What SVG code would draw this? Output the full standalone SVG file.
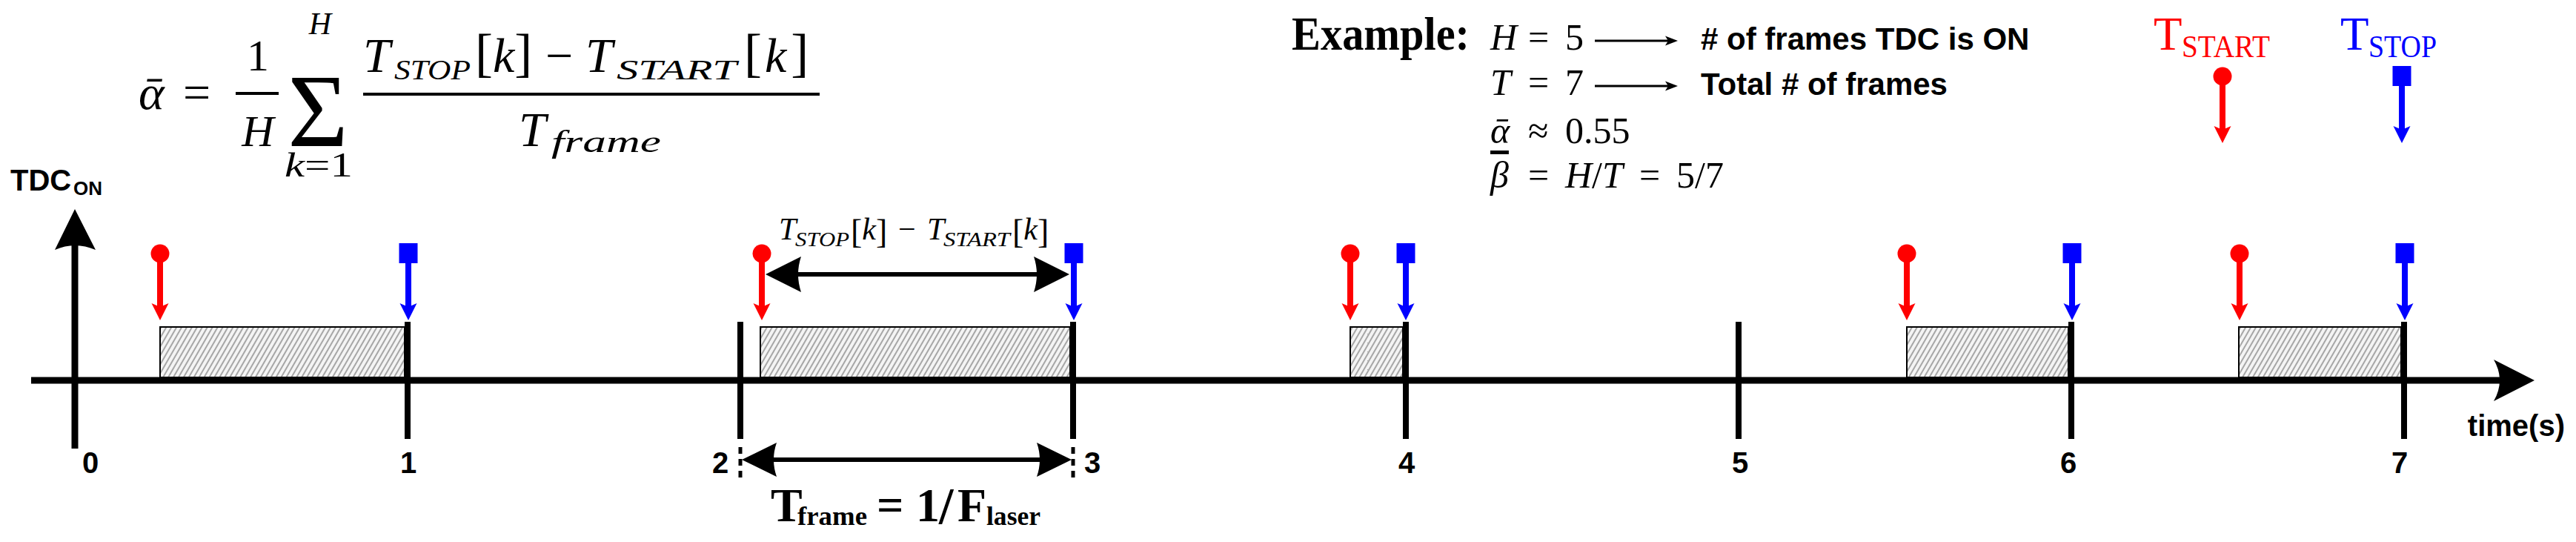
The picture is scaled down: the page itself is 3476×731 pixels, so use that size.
<svg xmlns="http://www.w3.org/2000/svg" width="3476" height="731" viewBox="0 0 3476 731">
<style>
.sans{font-family:"Liberation Sans",Arial,sans-serif;font-weight:bold}
.m{font-family:"Liberation Serif","DejaVu Serif",serif}
.it{font-style:italic}
.bd{font-weight:bold}
.ax{stroke:#000;stroke-width:9;fill:none}
.tick{stroke:#000;stroke-width:8}
.dash{stroke:#000;stroke-width:5;stroke-dasharray:9 7}
.box{fill:url(#hatch);stroke:#000;stroke-width:2}
.rl{stroke:#ff0000;stroke-width:8}
.bl{stroke:#0000ff;stroke-width:8}
.dl{stroke:#000;stroke-width:6}
.thin{stroke:#000;stroke-width:3}
.bar{stroke:#000;stroke-width:4}
</style>
<defs>
<pattern id="hatch" patternUnits="userSpaceOnUse" width="6" height="6" patternTransform="rotate(30)">
<rect width="6" height="6" fill="#f4f4f4"/>
<line x1="1" y1="0" x2="1" y2="6" stroke="#666" stroke-width="1.1"/>
</pattern>
<g id="startSym">
<circle cx="0" cy="0" r="12.5" fill="#ff0000"/>
<line x1="0" y1="0" x2="0" y2="72" class="rl"/>
<path d="M-11.5,67 L0,90 L11.5,67 L0,72 Z" fill="#ff0000"/>
</g>
<g id="stopSym">
<rect x="-12.5" y="-14" width="25" height="27" fill="#0000ff"/>
<line x1="0" y1="10" x2="0" y2="72" class="bl"/>
<path d="M-11.5,67 L0,90 L11.5,67 L0,72 Z" fill="#0000ff"/>
</g>
</defs>

<g id="formula">
<text class="m it" x="187" y="147" font-size="66">ᾱ</text>
<text class="m" x="247" y="147" font-size="66">=</text>
<text class="m" x="348" y="95" font-size="60" text-anchor="middle">1</text>
<line x1="318" y1="126" x2="376" y2="126" class="bar"/>
<text class="m it" x="348" y="197" font-size="60" text-anchor="middle">H</text>
<text class="m" x="429" y="197" font-size="140" text-anchor="middle">Σ</text>
<text class="m it" x="432" y="46" font-size="42" text-anchor="middle">H</text>
<text class="m" x="384" y="238" font-size="46" textLength="92" lengthAdjust="spacingAndGlyphs"><tspan font-style="italic">k</tspan>=1</text>
<line x1="490" y1="127" x2="1106" y2="127" class="bar"/>
<text class="m it" x="490" y="97" font-size="66">T</text>
<text class="m it" x="532" y="107" font-size="38" textLength="103" lengthAdjust="spacingAndGlyphs">STOP</text>
<text class="m" x="641" y="95" font-size="72">[<tspan font-size="66" font-style="italic" dy="2">k</tspan><tspan dy="-2">]</tspan></text>
<text class="m" x="736" y="97" font-size="66">−</text>
<text class="m it" x="790" y="97" font-size="66">T</text>
<text class="m it" x="832" y="107" font-size="38" textLength="162" lengthAdjust="spacingAndGlyphs">START</text>
<text class="m" x="1004" y="95" font-size="72">[<tspan font-size="66" font-style="italic" dy="2" dx="4">k</tspan><tspan dy="-2" dx="6">]</tspan></text>
<text class="m it" x="700" y="197" font-size="66">T</text>
<text class="m it" x="744" y="205" font-size="42" textLength="148" lengthAdjust="spacingAndGlyphs">frame</text>
</g>

<g id="example">
<text class="m bd" x="1743" y="67" font-size="64" textLength="240" lengthAdjust="spacingAndGlyphs">Example:</text>
<text class="m it" x="2011" y="67" font-size="50">H</text>
<text class="m" x="2062" y="67" font-size="50">=</text>
<text class="m" x="2112" y="67" font-size="50">5</text>
<text class="sans" x="2295" y="67" font-size="42"># of frames TDC is ON</text>
<text class="m it" x="2011" y="128" font-size="50">T</text>
<text class="m" x="2062" y="128" font-size="50">=</text>
<text class="m" x="2112" y="128" font-size="50">7</text>
<text class="sans" x="2295" y="128" font-size="42">Total # of frames</text>
<text class="m it" x="2011" y="193" font-size="50">ᾱ</text>
<text class="m" x="2062" y="193" font-size="50">≈</text>
<text class="m" x="2112" y="193" font-size="50">0.55</text>
<text class="m it" x="2011" y="253" font-size="50" text-decoration="overline">β</text>
<text class="m" x="2062" y="253" font-size="50">=</text>
<text class="m" x="2112" y="253" font-size="50"><tspan font-style="italic">H</tspan>/<tspan font-style="italic">T</tspan></text>
<text class="m" x="2212" y="253" font-size="50">=</text>
<text class="m" x="2262" y="253" font-size="50">5/7</text>
</g>

<g id="legend">
<text class="m" x="2906" y="67" font-size="63" fill="#ff0000">T</text>
<text class="m" x="2944" y="77" font-size="42" fill="#ff0000" textLength="119" lengthAdjust="spacingAndGlyphs">START</text>
<text class="m" x="3158" y="67" font-size="63" fill="#0000ff">T</text>
<text class="m" x="3196" y="77" font-size="42" fill="#0000ff" textLength="92" lengthAdjust="spacingAndGlyphs">STOP</text>
<use href="#startSym" x="2999" y="103"/>
<use href="#stopSym" x="3241" y="103"/>
</g>

<g id="axes">
<line x1="101" y1="605" x2="101" y2="326" class="ax" stroke-width="8"/>
<path d="M101,282 L74,337 Q101,325 129,337 Z" fill="#000"/>
<text class="sans" x="14" y="257" font-size="40">TDC</text>
<text class="sans" x="99" y="263" font-size="26">ON</text>
<line x1="42" y1="513" x2="3378" y2="513" class="ax"/>
<path d="M3420,513 L3365,485 Q3381,513 3365,541 Z" fill="#000"/>
<text class="sans" x="3461" y="588" font-size="40" text-anchor="end">time(s)</text>
</g>

<g id="boxes">
<rect x="216" y="441" width="330" height="68" class="box"/>
<rect x="1026" y="441" width="418" height="68" class="box"/>
<rect x="1822" y="441" width="71" height="68" class="box"/>
<rect x="2573" y="441" width="218" height="68" class="box"/>
<rect x="3021" y="441" width="219" height="68" class="box"/>
</g>

<g id="ticks">
<line x1="550" y1="434" x2="550" y2="592" class="tick"/>
<line x1="999" y1="434" x2="999" y2="592" class="tick"/>
<line x1="1448" y1="434" x2="1448" y2="592" class="tick"/>
<line x1="1897" y1="434" x2="1897" y2="592" class="tick"/>
<line x1="2346" y1="434" x2="2346" y2="592" class="tick"/>
<line x1="2795" y1="434" x2="2795" y2="592" class="tick"/>
<line x1="3244" y1="434" x2="3244" y2="592" class="tick"/>
<line x1="999" y1="603" x2="999" y2="650" class="dash"/>
<line x1="1448" y1="603" x2="1448" y2="650" class="dash"/>
</g>

<g id="labels" class="sans" font-size="40" text-anchor="middle">
<text x="122" y="638">0</text>
<text x="551" y="638">1</text>
<text x="972" y="638">2</text>
<text x="1474" y="638">3</text>
<text x="1898" y="638">4</text>
<text x="2348" y="638">5</text>
<text x="2791" y="638">6</text>
<text x="3238" y="638">7</text>
</g>

<g id="events">
<g id="start1"><use href="#startSym" x="216" y="342"/></g>
<g id="stop1"><use href="#stopSym" x="551" y="342"/></g>
<g id="start2"><use href="#startSym" x="1028" y="342"/></g>
<g id="stop2"><use href="#stopSym" x="1449" y="342"/></g>
<g id="start3"><use href="#startSym" x="1822" y="342"/></g>
<g id="stop3"><use href="#stopSym" x="1897" y="342"/></g>
<g id="start4"><use href="#startSym" x="2573" y="342"/></g>
<g id="stop4"><use href="#stopSym" x="2796" y="342"/></g>
<g id="start5"><use href="#startSym" x="3022" y="342"/></g>
<g id="stop5"><use href="#stopSym" x="3245" y="342"/></g>
</g>

<g id="connectors">
<line x1="1075" y1="370" x2="1401" y2="370" class="dl"/>
<path d="M1033,370 L1081,346 Q1073,370 1081,394 Z" fill="#000"/>
<path d="M1443,370 L1395,346 Q1403,370 1395,394 Z" fill="#000"/>
<line x1="1042" y1="620" x2="1405" y2="620" class="dl"/>
<path d="M1001,620 L1048,597 Q1040,620 1048,643 Z" fill="#000"/>
<path d="M1446,620 L1399,597 Q1407,620 1399,643 Z" fill="#000"/>
<line x1="2152" y1="55" x2="2252" y2="55" class="thin"/>
<path d="M2264,55 L2247,48.5 L2251,55 L2247,61.5 Z" fill="#000"/>
<line x1="2152" y1="116" x2="2252" y2="116" class="thin"/>
<path d="M2264,116 L2247,109.5 L2251,116 L2247,122.5 Z" fill="#000"/>
</g>

<g id="diffLabel">
<text class="m it" x="1051" y="323" font-size="42">T</text>
<text class="m it" x="1073" y="332" font-size="27" textLength="73" lengthAdjust="spacingAndGlyphs">STOP</text>
<text class="m" x="1148" y="328" font-size="46">[<tspan font-size="42" font-style="italic" dy="-5">k</tspan><tspan dy="5">]</tspan></text>
<text class="m" x="1212" y="323" font-size="42">−</text>
<text class="m it" x="1251" y="323" font-size="42">T</text>
<text class="m it" x="1273" y="332" font-size="27" textLength="90" lengthAdjust="spacingAndGlyphs">START</text>
<text class="m" x="1366" y="328" font-size="46">[<tspan font-size="42" font-style="italic" dy="-5">k</tspan><tspan dy="5">]</tspan></text>
</g>

<g id="frameLabel">
<text class="m bd" x="1040" y="703" font-size="64">T</text>
<text class="m bd" x="1076" y="708" font-size="36" textLength="94" lengthAdjust="spacingAndGlyphs">frame</text>
<text class="m bd" x="1183" y="703" font-size="64">=</text>
<text class="m bd" x="1236" y="703" font-size="64">1</text>
<text class="m bd" x="1267" y="706" font-size="70">/</text>
<text class="m bd" x="1292" y="703" font-size="64">F</text>
<text class="m bd" x="1331" y="708" font-size="36" textLength="73" lengthAdjust="spacingAndGlyphs">laser</text>
</g>
</svg>
